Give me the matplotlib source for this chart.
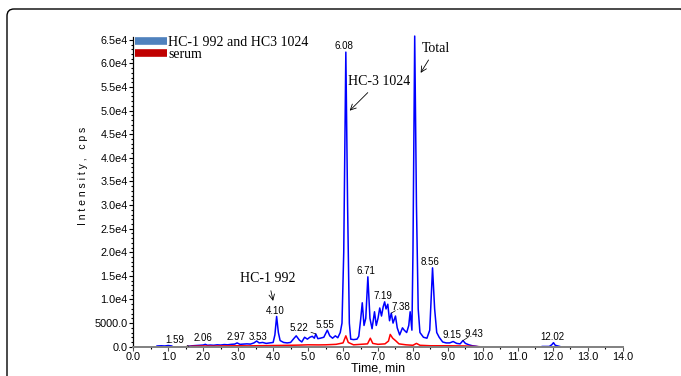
import numpy as np
import matplotlib
matplotlib.use("Agg")
import matplotlib.pyplot as plt
from matplotlib.lines import Line2D
from matplotlib.patches import FancyBboxPatch
from matplotlib.ticker import MultipleLocator, FuncFormatter

# total ion trace (HC-1 992 and HC-3 1024), time in min, intensity in cps
total_time = [0.68, 0.8, 0.9, 1.0, 1.1, np.nan,
              1.58, 1.7, 1.8, 1.9, 2.0, 2.06, 2.12, 2.2, 2.3, 2.4, 2.5, 2.6, 2.7, 2.8, 2.9,
              2.97, 3.05, 3.15, 3.25, 3.35, 3.45, 3.53, 3.6, 3.7, 3.8, 3.9, 4.0, 4.05, 4.10,
              4.15, 4.2, 4.3, 4.4, 4.5, 4.6, 4.66, 4.75, 4.82, 4.9, 4.98, 5.05, 5.12, 5.18,
              5.22, 5.28, 5.35, 5.45, 5.55, 5.62, 5.7, 5.78, 5.85, 5.92, 5.97, 6.02, 6.08,
              6.13, 6.18, 6.22, 6.3, 6.4, 6.45, 6.5, 6.55, 6.6, 6.65, 6.71, 6.77, 6.83, 6.9,
              6.95, 7.0, 7.05, 7.1, 7.15, 7.19, 7.23, 7.28, 7.33, 7.38, 7.43, 7.5, 7.55,
              7.62, 7.7, 7.75, 7.82, 7.88, 7.92, 7.97, 8.0, 8.05, 8.1, 8.15, 8.2, 8.3, 8.4,
              8.48, 8.53, 8.56, 8.62, 8.68, 8.75, 8.85, 8.95, 9.05, 9.15, 9.25, 9.35, 9.43,
              9.5, 9.6, 9.7, 9.8, 9.87, np.nan,
              11.7, 11.9, 11.97, 12.02, 12.07, 12.2]
total_int = [150, 200, 150, 250, 150, np.nan,
             100, 200, 250, 300, 350, 500, 300, 350, 300, 400, 350, 450, 400, 500, 550,
             800, 500, 550, 600, 550, 800, 1200, 800, 900, 700, 800, 900, 2500, 6400,
             3000, 1300, 900, 800, 900, 1800, 2300, 1400, 1000, 2000, 1600, 2000, 2200, 1800,
             2700, 1700, 1800, 2000, 3500, 2300, 1800, 2300, 1900, 3000, 5000, 20000, 62400,
             30000, 5000, 1600, 1500, 1600, 2200, 5500, 9300, 4500, 6000, 14800, 6000, 3800, 7400,
             4500, 6000, 8200, 6500, 8500, 9500, 8000, 9000, 5500, 7100, 5000, 6500, 4000,
             2500, 4000, 3500, 3000, 4500, 7400, 3500, 20000, 65800, 30000, 8000, 3000, 2000, 1800,
             3500, 12000, 16700, 8000, 3000, 2000, 1000, 800, 800, 1100, 700, 600, 1300,
             700, 400, 200, 100, 0, np.nan,
             50, 50, 400, 850, 300, 50]

# serum trace
serum_time = [1.53, 1.7, 2.0, 2.3, 2.5, 2.8, 3.0, 3.3, 3.5, 3.8, 4.0, 4.3, 4.5, 4.8, 5.0,
              5.3, 5.5, 5.8, 6.0, 6.08, 6.15, 6.3, 6.5, 6.7, 6.78, 6.85, 7.0, 7.2, 7.3,
              7.35, 7.42, 7.5, 7.6, 7.8, 8.0, 8.1, 8.2, 8.5, 9.0, 9.5, 9.9]
serum_int = [0, 100, 150, 120, 150, 180, 200, 170, 200, 230, 250, 280, 300, 350, 400,
             380, 400, 500, 800, 2300, 900, 400, 500, 600, 1800, 700, 500, 600, 1200,
             2600, 1800, 1300, 600, 400, 300, 700, 300, 200, 200, 150, 0]

# peak labels: retention time, apex intensity, label offset in pixels, leader line
peak_times = [1.59, 2.06, 2.97, 3.53, 4.10, 5.22, 5.55, 6.08, 6.71, 7.19, 7.38,
              8.05, 8.56, 9.15, 9.43, 12.02]
peak_heights = [100, 500, 800, 1200, 6400, 2700, 3500, 62400, 14800, 9500, 7100,
                65800, 16700, 1100, 1300, 850]
peak_dx = [-14, -2, -1, 1, -1, -17, -2, -2, -2, -2, 10, -1, -2, -1, 11, -1]
peak_dy = [6, 6, 6, 4, 5, 6, 5, 6, 6, 6, 6, 5, 6, 7, 7, 6]
peak_leader = [True, False, False, False, False, True, False, False, False, False,
               True, False, False, False, True, False]

fig = plt.figure(figsize=(6.81, 3.76), dpi=100)
ax = fig.add_axes([133.3 / 681, 1 - 346.7 / 376, 489.4 / 681, 309.7 / 376])

# rounded frame around the whole picture (in inches so the corner is round)
frame = FancyBboxPatch((0.07, -0.3), 6.81, 3.67 + 0.3,
                       boxstyle="round,pad=0,rounding_size=0.07",
                       transform=fig.dpi_scale_trans, fill=False, lw=1.0,
                       edgecolor="black", clip_on=False)
fig.patches.append(frame)

ax.plot(total_time, total_int, color="#0000ff", lw=1.1, clip_on=False)
ax.plot(serum_time, serum_int, color="#ff0000", lw=1.1)

ax.set_xlim(0, 14.0)
ax.set_ylim(0, 65600)

for t, h, dx, dy, lead in zip(peak_times, peak_heights, peak_dx, peak_dy, peak_leader):
    ax.annotate(f"{t:.2f}", xy=(t, h), xytext=(dx, dy), textcoords="offset pixels",
                ha="center", va="center", fontsize=7, family="Liberation Sans",
                arrowprops=dict(arrowstyle="-", lw=0.5, color="black",
                                shrinkA=5, shrinkB=0) if lead else None)

serif = "Liberation Serif"
arrow = dict(arrowstyle="->", lw=0.6, color="black", shrinkA=2, shrinkB=0)
ax.annotate("HC-1 992", xy=(4.0, 9700), xytext=(3.86, 14400), fontsize=10,
            family=serif, ha="center", va="center", arrowprops=arrow)
ax.annotate("HC-3 1024", xy=(6.19, 50000), xytext=(7.03, 56200), fontsize=10,
            family=serif, ha="center", va="center", arrowprops=arrow)
ax.annotate("Total", xy=(8.22, 58000), xytext=(8.65, 63200), fontsize=10,
            family=serif, ha="center", va="center", arrowprops=arrow)

handles = [Line2D([], [], color="#4f81bd", lw=5.5, solid_capstyle="butt"),
           Line2D([], [], color="#c00000", lw=5.5, solid_capstyle="butt")]
leg = ax.legend(handles, ["HC-1 992 and HC3 1024", "serum"], loc="upper left",
                bbox_to_anchor=(0.004, 1.003), frameon=False, handlelength=2.3,
                handletextpad=0.05, labelspacing=-0.1, borderpad=0, borderaxespad=0,
                prop={"family": serif, "size": 10})

ax.xaxis.set_major_locator(MultipleLocator(1.0))
ax.xaxis.set_minor_locator(MultipleLocator(0.5))
ax.xaxis.set_major_formatter(FuncFormatter(lambda v, p: f"{v:.1f}"))
ax.yaxis.set_major_locator(MultipleLocator(5000))
ax.yaxis.set_minor_locator(MultipleLocator(1000))


def yfmt(v, p):
    if v < 1e4:
        return f"{v:.1f}"
    return f"{v / 1e4:.1f}e4"


ax.yaxis.set_major_formatter(FuncFormatter(yfmt))
ax.tick_params(axis="both", which="major", labelsize=7.8, length=3, width=0.8, pad=1)
ax.tick_params(axis="both", which="minor", length=1.5, width=0.8)
ax.tick_params(axis="x", colors="#555555", labelcolor="black")
for lab in ax.get_xticklabels() + ax.get_yticklabels():
    lab.set_family("Liberation Sans")

for side in ["top", "right"]:
    ax.spines[side].set_visible(False)
ax.spines["bottom"].set_color("#808080")
ax.spines["bottom"].set_linewidth(1.4)
ax.spines["left"].set_linewidth(0.9)

ax.set_xlabel("Time, min", fontsize=9, family="Liberation Sans", labelpad=0)
ax.set_ylabel("I n t e n s i t y ,   c p s", fontsize=7.5, family="Liberation Sans")
ax.yaxis.set_label_coords(-0.093, 0.551)

fig.savefig("out.png", dpi=100)
